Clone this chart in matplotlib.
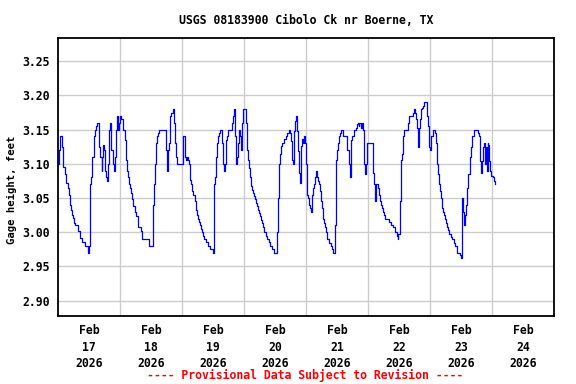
import numpy as np
import matplotlib
matplotlib.use('Agg')
import matplotlib.pyplot as plt

# hours since Feb 17 2026 00:00, gage height in feet
hours = [
    0.0, 0.4, 0.9, 1.7, 2.1, 2.7, 3.1, 3.7, 4.1, 4.5, 5.0, 5.4, 5.9, 6.3, 6.7,
    7.9, 8.5, 9.2, 10.4, 11.7, 12.1, 12.5, 12.9, 13.3, 13.8, 14.2, 14.6, 15.0,
    16.0, 16.4, 16.9, 17.2, 17.5, 17.9, 18.3, 18.7, 19.1, 19.5, 19.9, 20.2,
    20.6, 21.2, 21.5, 21.9, 22.3, 22.7, 23.1, 23.5, 24.0, 24.5, 25.3, 25.8,
    26.2, 26.7, 27.1, 27.5, 27.9, 28.3, 28.8, 29.2, 29.7, 30.1, 30.8, 32.2,
    32.5, 35.1, 36.6, 36.8, 37.0, 37.4, 37.9, 38.3, 38.8, 39.2, 41.5, 41.8,
    42.2, 42.6, 43.1, 43.5, 43.9, 44.4, 44.8, 45.2, 45.5, 45.9, 48.2, 48.4,
    49.0, 49.2, 49.6, 49.9, 50.3, 50.7, 51.1, 51.5, 51.9, 52.3, 53.0, 53.4,
    53.8, 54.2, 54.6, 55.0, 55.4, 55.7, 56.1, 56.5, 57.3, 58.1, 58.8, 60.0,
    60.3, 60.6, 61.0, 61.4, 61.8, 62.2, 62.7, 63.5, 63.9, 64.3, 64.6, 65.0,
    65.4, 65.8, 67.2, 67.6, 68.0, 68.4, 68.8, 69.2, 69.5, 69.9, 70.3, 70.7,
    71.1, 71.5, 72.6, 73.0, 73.4, 73.8, 74.2, 74.6, 75.0, 75.4, 75.7, 76.1,
    76.5, 76.9, 77.3, 77.7, 78.1, 78.5, 78.8, 79.2, 79.6, 80.5, 81.0, 81.5,
    82.1, 82.7, 83.6, 84.9, 85.1, 85.5, 85.9, 86.3, 86.7, 87.5, 88.3, 88.8,
    89.3, 89.8, 90.2, 90.6, 91.0, 91.2, 91.7, 92.1, 92.5, 92.9, 93.3, 93.7,
    94.1, 94.5, 94.8, 95.2, 95.6, 96.0, 96.4, 96.7, 97.1, 97.5, 97.9, 98.3,
    98.7, 99.1, 99.5, 99.8, 100.2, 100.6, 101.0, 101.4, 101.8, 102.2, 102.6,
    102.9, 103.3, 103.7, 104.1, 104.9, 105.5, 106.0, 106.4, 107.1, 107.5,
    107.8, 108.1, 108.5, 108.9, 109.3, 109.7, 110.4, 111.8, 112.6, 112.9,
    113.3, 113.6, 114.0, 114.4, 115.2, 115.6, 116.0, 116.4, 116.7, 117.1,
    117.5, 117.9, 118.3, 118.7, 119.1, 119.5, 121.4, 121.8, 122.2, 122.6,
    122.8, 123.1, 123.8, 124.2, 124.6, 125.0, 125.4, 125.8, 126.2, 126.5,
    128.1, 128.8, 129.5, 130.3, 131.1, 131.5, 131.8, 132.2, 132.6, 133.0,
    133.4, 133.8, 135.2, 135.6, 136.0, 137.5, 137.9, 138.3, 138.7, 139.1,
    139.4, 139.8, 140.2, 140.6, 141.0, 141.4, 141.8, 142.9, 143.3, 143.6,
    144.0, 144.4, 145.0, 145.6, 146.0, 146.4, 146.8, 147.2, 147.5, 147.9,
    148.3, 148.7, 149.1, 149.5, 149.9, 150.3, 150.6, 151.0, 151.4, 152.1,
    152.7, 153.2, 153.7, 154.3, 154.6, 155.7, 156.1, 156.2, 156.3, 156.6,
    157.0, 157.4, 157.7, 158.1, 158.5, 158.9, 159.3, 159.7, 160.1, 161.1,
    162.0, 162.4, 162.8, 163.2, 163.5, 163.9, 164.2, 164.6, 164.8, 165.2,
    165.5, 165.9, 166.3, 166.6, 167.0, 167.4, 167.8, 168.3, 168.7, 169.1,
]
stage = [
    3.10, 3.12, 3.14, 3.125, 3.095, 3.085, 3.072, 3.065, 3.055, 3.04, 3.033,
    3.025, 3.021, 3.013, 3.011, 3.001, 2.991, 2.985, 2.98, 2.97, 2.98, 3.07,
    3.08, 3.11, 3.14, 3.15, 3.155, 3.16, 3.125, 3.11, 3.09, 3.11, 3.128, 3.12,
    3.09, 3.08, 3.075, 3.10, 3.15, 3.16, 3.12, 3.10, 3.09, 3.11, 3.15, 3.17,
    3.15, 3.16, 3.17, 3.165, 3.15, 3.135, 3.105, 3.09, 3.08, 3.07, 3.065,
    3.058, 3.048, 3.038, 3.03, 3.023, 3.008, 3.001, 2.99, 2.98, 3.00, 3.04,
    3.07, 3.10, 3.13, 3.14, 3.145, 3.15, 3.15, 3.12, 3.09, 3.12, 3.13, 3.17,
    3.175, 3.18, 3.16, 3.13, 3.11, 3.10, 3.10, 3.14, 3.14, 3.11, 3.106, 3.11,
    3.106, 3.10, 3.077, 3.07, 3.06, 3.055, 3.045, 3.033, 3.025, 3.02, 3.015,
    3.01, 3.005, 3.00, 2.995, 2.99, 2.985, 2.98, 2.975, 2.97, 3.07, 3.08,
    3.11, 3.13, 3.14, 3.145, 3.15, 3.13, 3.10, 3.09, 3.10, 3.135, 3.14, 3.15,
    3.16, 3.17, 3.18, 3.14, 3.10, 3.11, 3.13, 3.15, 3.14, 3.12, 3.16, 3.18,
    3.16, 3.12, 3.105, 3.094, 3.08, 3.067, 3.062, 3.058, 3.053, 3.048, 3.043,
    3.038, 3.033, 3.028, 3.023, 3.018, 3.013, 3.008, 3.00, 2.995, 2.99, 2.985,
    2.98, 2.975, 2.97, 3.00, 3.05, 3.10, 3.115, 3.126, 3.13, 3.136, 3.14,
    3.145, 3.15, 3.145, 3.133, 3.106, 3.10, 3.148, 3.163, 3.17, 3.148, 3.118,
    3.087, 3.072, 3.126, 3.136, 3.13, 3.14, 3.13, 3.10, 3.055, 3.05, 3.04,
    3.035, 3.03, 3.055, 3.065, 3.07, 3.08, 3.09, 3.08, 3.075, 3.07, 3.06,
    3.045, 3.035, 3.02, 3.013, 3.008, 3.00, 2.99, 2.984, 2.98, 2.975, 2.97,
    3.01, 3.065, 3.105, 3.12, 3.13, 3.14, 3.145, 3.15, 3.14, 3.12, 3.10, 3.08,
    3.10, 3.135, 3.14, 3.15, 3.153, 3.158, 3.16, 3.155, 3.16, 3.153, 3.16,
    3.15, 3.10, 3.085, 3.10, 3.13, 3.13, 3.087, 3.07, 3.05, 3.045, 3.07,
    3.065, 3.055, 3.045, 3.04, 3.035, 3.03, 3.025, 3.02, 3.015, 3.01, 3.008,
    3.00, 2.995, 2.99, 2.998, 3.045, 3.105, 3.115, 3.14, 3.15, 3.15, 3.16,
    3.17, 3.175, 3.18, 3.175, 3.165, 3.153, 3.125, 3.153, 3.165, 3.18, 3.182,
    3.185, 3.19, 3.17, 3.155, 3.125, 3.12, 3.14, 3.15, 3.15, 3.145, 3.13,
    3.10, 3.085, 3.07, 3.06, 3.05, 3.035, 3.03, 3.025, 3.02, 3.013, 3.008,
    3.003, 2.998, 2.993, 2.99, 2.984, 2.98, 2.975, 2.97, 2.967, 2.962, 2.985,
    3.05, 3.03, 3.01, 3.015, 3.025, 3.04, 3.065, 3.085, 3.11, 3.124, 3.14,
    3.15, 3.15, 3.145, 3.14, 3.133, 3.104, 3.087, 3.104, 3.124, 3.13, 3.10,
    3.124, 3.09, 3.13, 3.128, 3.104, 3.09, 3.082, 3.08, 3.075, 3.07,
]

days = ['17', '18', '19', '20', '21', '22', '23', '24']
y_ticks = [2.90, 2.95, 3.00, 3.05, 3.10, 3.15, 3.20, 3.25]

font = {'family': 'DejaVu Sans Mono', 'weight': 'bold', 'size': 8.3}

fig = plt.figure(figsize=(5.76, 3.84), dpi=100)
ax = fig.add_axes([58 / 576, 68 / 384, 496 / 576, 278 / 384])

ax.plot(hours, stage, color='#0000ff', lw=0.9, drawstyle='steps-post')

ax.set_xlim(0, 24 * len(days))
ax.set_ylim(2.8774, 3.284)

ax.set_xticks(np.arange(24, 24 * len(days), 24))
ax.set_xticklabels([])
ax.set_xticks(np.arange(len(days)) * 24 + 12, minor=True)
ax.set_xticklabels([f'Feb\n{d}\n2026' for d in days], minor=True,
                   fontdict=font, linespacing=1.35)
ax.set_yticks(y_ticks)
ax.set_yticklabels([f'{v:.2f}' for v in y_ticks], fontdict=font)

ax.tick_params(which='both', length=0)
ax.tick_params(axis='x', which='minor', pad=6)
ax.tick_params(axis='y', pad=6)
ax.grid(True, which='major', color='#cccccc', lw=1.0)
ax.set_axisbelow(True)
for s in ax.spines.values():
    s.set_linewidth(1.3)

fig.text(12 / 576, 1 - 190 / 384, 'Gage height, feet', rotation=90,
         ha='center', va='center', family='DejaVu Sans Mono',
         weight='bold', size=7.6)
fig.text(306 / 576, 1 - 20 / 384, 'USGS 08183900 Cibolo Ck nr Boerne, TX',
         ha='center', va='center', **font)
fig.text(305 / 576, 1 - 375 / 384,
         '---- Provisional Data Subject to Revision ----',
         ha='center', va='center', color='red', **font)

fig.savefig('out.png', dpi=100)
